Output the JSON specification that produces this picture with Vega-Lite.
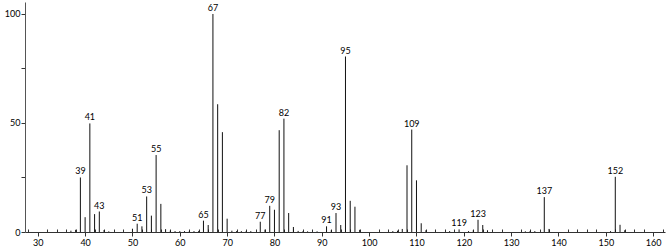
{
  "$schema": "https://vega.github.io/schema/vega-lite/v6.json",
  "width": 640,
  "height": 230,
  "autosize": {"type": "none"},
  "padding": {"left": 25, "top": 2, "right": 2, "bottom": 17},
  "background": "white",
  "config": {"view": {"stroke": null}, "font": "Lato"},
  "data": {"values": [
    {"mz": 37, "i": 0.6}, {"mz": 38, "i": 1.0}, {"mz": 39, "i": 25}, {"mz": 40, "i": 6.8},
    {"mz": 41, "i": 49.8}, {"mz": 42, "i": 8.2}, {"mz": 43, "i": 9.4}, {"mz": 44, "i": 0.9},
    {"mz": 45, "i": 0.3}, {"mz": 50, "i": 1.5}, {"mz": 51, "i": 3.8}, {"mz": 52, "i": 2.6},
    {"mz": 53, "i": 16.3}, {"mz": 54, "i": 7.5}, {"mz": 55, "i": 35.3}, {"mz": 56, "i": 12.9},
    {"mz": 57, "i": 1.3}, {"mz": 58, "i": 0.6}, {"mz": 59, "i": 0.4}, {"mz": 60, "i": 0.4},
    {"mz": 61, "i": 0.4}, {"mz": 62, "i": 0.3}, {"mz": 63, "i": 0.4}, {"mz": 64, "i": 0.5},
    {"mz": 65, "i": 5.2}, {"mz": 66, "i": 3.2}, {"mz": 67, "i": 100}, {"mz": 68, "i": 58.6},
    {"mz": 69, "i": 45.8}, {"mz": 70, "i": 6.1}, {"mz": 71, "i": 0.6}, {"mz": 72, "i": 0.4},
    {"mz": 73, "i": 0.4}, {"mz": 74, "i": 0.3}, {"mz": 75, "i": 0.4}, {"mz": 77, "i": 4.7},
    {"mz": 78, "i": 1.1}, {"mz": 79, "i": 12}, {"mz": 80, "i": 10.2}, {"mz": 81, "i": 46.7},
    {"mz": 82, "i": 52}, {"mz": 83, "i": 8.7}, {"mz": 84, "i": 2.3}, {"mz": 85, "i": 0.5},
    {"mz": 86, "i": 0.3}, {"mz": 87, "i": 0.3}, {"mz": 89, "i": 0.3}, {"mz": 91, "i": 2.6},
    {"mz": 92, "i": 0.8}, {"mz": 93, "i": 8.7}, {"mz": 94, "i": 3.2}, {"mz": 95, "i": 80.5},
    {"mz": 96, "i": 14.3}, {"mz": 97, "i": 11.6}, {"mz": 98, "i": 1.0}, {"mz": 105, "i": 0.4},
    {"mz": 106, "i": 0.6}, {"mz": 107, "i": 1.4}, {"mz": 108, "i": 30.6}, {"mz": 109, "i": 47},
    {"mz": 110, "i": 23.7}, {"mz": 111, "i": 4}, {"mz": 112, "i": 0.8}, {"mz": 117, "i": 0.4},
    {"mz": 119, "i": 1.2}, {"mz": 121, "i": 0.4}, {"mz": 122, "i": 0.8}, {"mz": 123, "i": 5.6},
    {"mz": 124, "i": 3.2}, {"mz": 125, "i": 0.8}, {"mz": 133, "i": 0.3}, {"mz": 134, "i": 0.4},
    {"mz": 135, "i": 0.4}, {"mz": 137, "i": 16}, {"mz": 138, "i": 1.4}, {"mz": 151, "i": 0.4},
    {"mz": 152, "i": 25.3}, {"mz": 153, "i": 3.3}, {"mz": 154, "i": 0.8}
  ]},
  "layer": [
    {
      "mark": {"type": "rule", "color": "#111", "strokeWidth": 1},
      "encoding": {
        "x": {"field": "mz", "type": "quantitative", "title": null,
              "scale": {"domain": [27.3, 162.5], "nice": false, "zero": false},
              "axis": {"values": [30, 40, 50, 60, 70, 80, 90, 100, 110, 120, 130, 140, 150, 160],
                       "grid": false, "tickSize": 4, "tickColor": "#333", "domainColor": "#333",
                       "labelFontSize": 9, "labelColor": "#000", "labelPadding": 2, "labelFont": "Lato"}},
        "y": {"field": "i", "type": "quantitative", "title": null,
              "scale": {"domain": [0, 105.5], "nice": false},
              "axis": {"values": [0, 25, 50, 75, 100], "grid": false, "tickSize": 4,
                       "labelExpr": "datum.value % 50 === 0 ? datum.label : ''",
                       "tickColor": "#333", "domainColor": "#555",
                       "labelFontSize": 9, "labelColor": "#000", "labelPadding": 1, "labelFont": "Lato"}},
        "y2": {"datum": 0}
      }
    },
    {
      "transform": [{"filter": {"field": "mz", "oneOf": [39, 41, 43, 51, 53, 55, 65, 67, 77, 79, 82, 91, 93, 95, 109, 119, 123, 137, 152]}}],
      "mark": {"type": "text", "baseline": "bottom", "dy": -1, "fontSize": 9, "color": "#000", "font": "Lato"},
      "encoding": {
        "x": {"field": "mz", "type": "quantitative",
              "axis": {"orient": "bottom", "values": [28, 32, 34, 36, 38, 42, 44, 46, 48, 52, 54, 56, 58, 62, 64, 66, 68, 72, 74, 76, 78, 82, 84, 86, 88, 92, 94, 96, 98, 102, 104, 106, 108, 112, 114, 116, 118, 122, 124, 126, 128, 132, 134, 136, 138, 142, 144, 146, 148, 152, 154, 156, 158, 162],
                       "labels": false, "domain": false, "grid": false, "tickSize": -3, "tickColor": "#333", "title": null}},
        "y": {"field": "i", "type": "quantitative"},
        "text": {"field": "mz", "type": "nominal"}
      }
    }
  ],
  "resolve": {"axis": {"x": "independent"}}
}
